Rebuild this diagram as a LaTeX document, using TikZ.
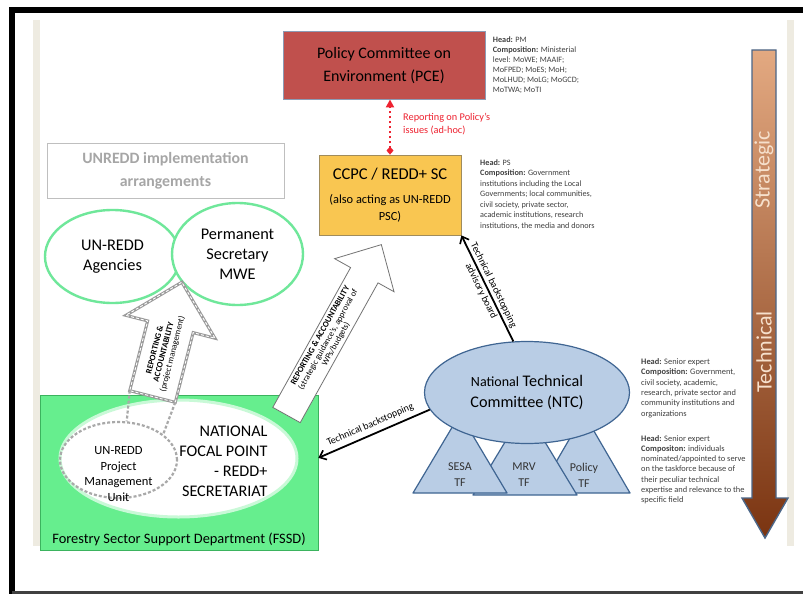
\documentclass[tikz,border=0pt]{standalone}
\usepackage{fontspec}
\setmainfont{Carlito}
\usepackage{xcolor}
\usepackage{tikz}
\usetikzlibrary{shapes.geometric,arrows.meta}
\definecolor{pceRed}{HTML}{C0504D}
\definecolor{pceEdge}{HTML}{8C9BB5}
\definecolor{scGold}{HTML}{F9C651}
\definecolor{scEdge}{HTML}{A08C5C}
\definecolor{ntcBlue}{HTML}{B9CDE5}
\definecolor{ntcEdge}{HTML}{3F6592}
\definecolor{fsGreen}{HTML}{66EE8E}
\definecolor{fsEdge}{HTML}{3BB35E}
\definecolor{ringGreen}{HTML}{6FE79A}
\definecolor{noteGrey}{HTML}{404040}
\definecolor{titleGrey}{HTML}{A6A6A6}
\definecolor{boxGrey}{HTML}{BFBFBF}
\definecolor{hollowGrey}{HTML}{9A9A9A}
\definecolor{adhocRed}{HTML}{EE2230}
\definecolor{slideBeige}{HTML}{EEEBE1}
\definecolor{axisTop}{HTML}{E3A981}
\definecolor{axisBottom}{HTML}{7A3411}
\definecolor{axisEdge}{HTML}{4B6688}
\definecolor{axisText}{HTML}{F6E0CC}
\tikzset{
  pcebox/.style={rectangle,draw=pceEdge,fill=pceRed,line width=0.8pt,
    minimum width=202,minimum height=67.5,align=center,font=\fontsize{16}{23}\selectfont},
  scbox/.style={rectangle,draw=scEdge,fill=scGold,line width=0.8pt,
    minimum width=142,minimum height=80,align=center,font=\fontsize{12.4}{17}\selectfont},
  titlebox/.style={rectangle,draw=boxGrey,line width=0.8pt,text=titleGrey,
    minimum width=237,minimum height=55,align=center,font=\bfseries\fontsize{15.8}{23}\selectfont},
  ring/.style={ellipse,draw=ringGreen,line width=2.4pt,fill=white,align=center,
    inner sep=0pt,font=\fontsize{16.3}{20}\selectfont},
  deptbox/.style={rectangle,draw=fsEdge,fill=fsGreen,line width=0.8pt,
    minimum width=278,minimum height=155},
  focal/.style={ellipse,draw=fsGreen!35,fill=white,line width=3pt,
    minimum width=237,minimum height=117},
  pmuring/.style={ellipse,draw=hollowGrey!85,line width=2.2pt,dash pattern=on 3pt off 2pt,
    minimum width=117,minimum height=76},
  ntcring/.style={ellipse,draw=ntcEdge,fill=ntcBlue,line width=1.2pt,
    minimum width=205,minimum height=102,align=center,font=\fontsize{16.2}{21}\selectfont},
  tfshape/.style={draw=ntcEdge,fill=ntcBlue,line width=1.2pt,line join=round},
  tflabel/.style={align=center,font=\fontsize{12}{16}\selectfont,text=black!80},
  note/.style={anchor=north west,align=left,inner sep=0pt,text=noteGrey},
  openarrow/.style={draw=black!55,fill=white,line width=0.8pt},
  hollowarrow/.style={draw=hollowGrey,fill=white,line width=3pt,
    postaction={draw=white,line width=0.9pt,dash pattern=on 3pt off 2pt}},
  arrowtext/.style={align=center,font=\fontsize{8.5}{9}\selectfont,inner sep=0pt},
  ghostline/.style={draw=hollowGrey!85,line width=2.2pt,dash pattern=on 3pt off 2pt},
  techarrow/.style={-{Straight Barb[length=6pt,width=10pt,line width=1.6pt]},line width=1.8pt},
  techlabel/.style={align=center,font=\fontsize{10}{14}\selectfont},
  adhoc/.style={{Diamond[length=8pt,width=7pt]}-{Triangle[length=8pt,width=8pt]},
    draw=adhocRed,line width=2.4pt,dash pattern=on 2.4pt off 2.6pt},
  adhoclabel/.style={text=adhocRed,font=\fontsize{10.3}{12.7}\selectfont,align=left,
    inner sep=0pt,anchor=north west},
  axisarrow/.style={top color=axisTop,bottom color=axisBottom,draw=axisEdge,line width=1.4pt},
  axislabel/.style={text=axisText,font=\fontsize{22}{22}\selectfont,rotate=90}
}
\begin{document}
\begin{tikzpicture}[x=1pt,y=1pt]
\useasboundingbox (0,0) rectangle (803,-594);
\fill[white] (0,0) rectangle (803,-594);
\fill[slideBeige] (33,-20) rectangle (40,-546);
\fill[slideBeige] (787,-20) rectangle (794,-546);
\draw[line width=6pt] (803,-10) -- (12,-10) -- (12,-594);
\draw[line width=3pt,black!75] (12,-592.5) -- (803,-592.5);

\node[pcebox] (pce) at (384,-65.3) {Policy Committee on\\Environment (PCE)};
\node[scbox] (ccpc) at (390,-195) {{\fontsize{16.5}{20}\selectfont CCPC / REDD+ SC}\\[7pt](also acting as UN-REDD\\PSC)};
\node[titlebox] (title) at (165.5,-170.5) {UNREDD implementation\\arrangements};
\node[ring,minimum width=135,minimum height=93] (agencies) at (112.5,-256.5) {UN-REDD\\Agencies};
\node[ring,minimum width=131,minimum height=102] (psmwe) at (237.5,-254) {Permanent\\Secretary\\MWE};

\node[deptbox] (fssd) at (179,-472.5) {};
\node[font=\fontsize{14.4}{17}\selectfont] (fssdname) at ([yshift=11]fssd.south) {Forestry Sector Support Department (FSSD)};
\node[focal] (nfp) at (178.5,-458.5) {};
\node[anchor=east,align=right,font=\fontsize{16.2}{20}\selectfont] (nfptext) at (271,-461) {NATIONAL\\FOCAL POINT\\- REDD+\\SECRETARIAT};
\node[pmuring] (pmu) at (118.5,-460) {};
\node[align=center,font=\fontsize{12.5}{15.5}\selectfont] (pmutext) at (118.5,-474) {UN-REDD\\Project\\Management\\Unit};

\begin{scope}[shift={(152.5,-396.5)},rotate=75.6]
\path[hollowarrow] (0,-23.5) -- (72,-23.5) -- (72,-46) -- (118,0) -- (72,46) -- (72,23.5) -- (0,23.5) -- cycle;
\coordinate (pmubl) at (0,23.5);
\coordinate (pmubr) at (0,-23.5);
\node[arrowtext,rotate=75.6] (pmuflow) at (46,0) {\textbf{REPORTING \&}\\\textbf{ACCOUNTABILITY}\\(project management)};
\end{scope}
\draw[ghostline] (pmubl) -- (pmu.78);
\draw[ghostline] (pmubr) -- (pmu.30);

\begin{scope}[shift={(286.5,-415)},rotate=60.9]
\path[openarrow] (0,-15.7) -- (160,-15.7) -- (160,-34) -- (195,0) -- (160,34) -- (160,15.7) -- (0,15.7) -- cycle;
\node[arrowtext,rotate=60.9] (scflow) at (86,0) {\textbf{REPORTING \& ACCOUNTABILITY}\\(strategic guidance's, approval of\\WPs/budgets)};
\end{scope}

\draw[tfshape] (538,-493) -- (630,-493) -- (584,-414) -- cycle;
\draw[tfshape] (473,-495) -- (577,-495) -- (525,-409) -- cycle;
\draw[tfshape] (413,-493) -- (507,-493) -- (460,-414) -- cycle;
\node[ntcring] (ntc) at (527,-392.5) {{\fontsize{14}{21}\selectfont National} Technical\\Committee (NTC)};
\node[tflabel] (sesa) at (460,-475) {SESA\\TF};
\node[tflabel] (mrv) at (524,-475) {MRV\\TF};
\node[tflabel] (policy) at (584,-475) {Policy\\TF};

\node[note,font=\fontsize{8.2}{10}\selectfont] (pcenote) at (492.7,-37) {\textbf{Head:} PM\\\textbf{Composition:} Ministerial\\level: MoWE; MAAIF;\\MoFPED; MoES; MoH;\\MoLHUD; MoLG; MoGCD;\\MoTWA; MoTI};
\node[note,font=\fontsize{8.2}{10.5}\selectfont] (ccpcnote) at (480,-159.5) {\textbf{Head:} PS\\\textbf{Composition:} Government\\institutions including the Local\\Governments; local communities,\\civil society, private sector,\\academic institutions, research\\institutions, the media and donors};
\node[note,font=\fontsize{8.4}{10.3}\selectfont] (ntcnote) at (641,-358.5) {\textbf{Head:} Senior expert\\\textbf{Composition:} Government,\\civil society, academic,\\research, private sector and\\community institutions and\\organizations};
\node[note,font=\fontsize{8.4}{10.3}\selectfont] (tfnote) at (641,-435) {\textbf{Head:} Senior expert\\\textbf{Compositon:} individuals\\nominated/appointed to serve\\on the taskforce because of\\their peculiar technical\\expertise and relevance to the\\specific field};

\draw[adhoc] (ccpc.north) -- (ccpc.north |- pce.south);
\node[adhoclabel] (adhoctext) at (403,-113) {Reporting on Policy's\\issues (ad-hoc)};
\draw[techarrow] (ntc.105) -- node[techlabel,sloped] (advisory) {Technical backstopping\\advisory board} (ccpc.south east);
\draw[techarrow] (ntc.190) -- node[techlabel,sloped,above=1pt] (backstop) {Technical backstopping} (fssd.6);

\draw[axisarrow] (752,-50) -- (776,-50) -- (776,-498) -- (788,-498) -- (765,-538) -- (742,-498) -- (752,-498) -- cycle;
\node[axislabel] (strategic) at (764,-170) {Strategic};
\node[axislabel] (technical) at (764,-352) {Technical};
\end{tikzpicture}
\end{document}
